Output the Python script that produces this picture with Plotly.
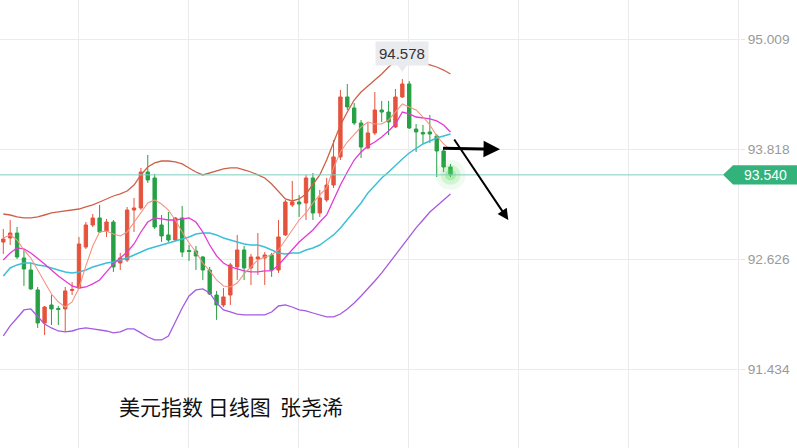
import plotly.graph_objects as go

# ---- candle data (daily USD index) ----
opens = [92.812, 92.856, 92.910, 92.639, 92.509, 92.293, 91.935, 92.130, 92.092, 92.087,
         92.287, 92.314, 92.758, 92.997, 93.073, 92.932, 93.029, 92.585, 92.618, 93.159,
         93.181, 93.571, 93.506, 92.997, 92.889, 92.834, 93.073, 92.721, 92.715, 92.650,
         92.509, 92.238, 92.130, 92.238, 92.542, 92.726, 92.531, 92.629, 92.639, 92.672,
         92.509, 92.889, 93.214, 93.246, 93.235, 93.506, 93.127, 93.268, 93.430, 93.734,
         94.384, 94.265, 94.102, 93.831, 93.994, 94.243, 94.221, 94.059, 94.384, 94.525,
         94.037, 93.999, 94.005, 93.961, 93.799, 93.625]
highs = [92.954, 93.051, 92.975, 92.737, 92.585, 92.325, 92.119, 92.238, 92.119, 92.325,
         92.379, 92.867, 93.029, 93.116, 93.214, 93.062, 93.051, 92.694, 93.192, 93.290,
         93.615, 93.755, 93.550, 93.105, 93.138, 93.084, 93.203, 92.780, 92.769, 92.661,
         92.542, 92.282, 92.314, 92.585, 92.889, 92.769, 92.683, 92.910, 92.704, 92.694,
         93.051, 93.268, 93.474, 93.322, 93.539, 93.560, 93.376, 93.506, 93.918, 94.460,
         94.525, 94.319, 94.135, 94.102, 94.438, 94.341, 94.341, 94.471, 94.578, 94.557,
         94.091, 94.081, 94.189, 93.983, 93.831, 93.658]
lows = [92.683, 92.780, 92.629, 92.336, 92.293, 91.881, 91.805, 91.913, 91.913, 91.838,
        92.238, 92.304, 92.737, 92.975, 92.910, 92.867, 92.488, 92.509, 92.596, 92.921,
        93.159, 93.452, 92.954, 92.813, 92.813, 92.824, 92.650, 92.607, 92.509, 92.401,
        92.238, 91.968, 92.108, 92.130, 92.401, 92.401, 92.347, 92.455, 92.347, 92.434,
        92.477, 92.878, 93.192, 93.084, 93.051, 93.051, 93.084, 93.246, 93.398, 93.701,
        94.243, 94.081, 93.723, 93.820, 93.972, 94.113, 93.972, 94.048, 94.373, 94.037,
        93.788, 93.875, 93.885, 93.517, 93.571, 93.517]
closes = [92.845, 92.910, 92.650, 92.520, 92.304, 91.935, 92.108, 92.087, 92.081, 92.282,
          92.298, 92.791, 92.997, 93.073, 92.921, 93.029, 92.542, 92.639, 93.159, 93.181,
          93.571, 93.485, 92.975, 92.878, 92.834, 93.073, 92.704, 92.710, 92.661, 92.509,
          92.249, 92.130, 92.217, 92.564, 92.726, 92.531, 92.650, 92.650, 92.672, 92.509,
          92.867, 93.246, 93.246, 93.224, 93.506, 93.127, 93.290, 93.430, 93.734, 94.384,
          94.276, 94.102, 93.842, 93.994, 94.243, 94.221, 94.113, 94.384, 94.525, 94.048,
          94.005, 93.983, 93.983, 93.799, 93.625, 93.540]

# ---- indicator lines ----
boll_upper = [93.116, 93.105, 93.084, 93.073, 93.073, 93.084, 93.105, 93.127, 93.138, 93.149,
              93.159, 93.170, 93.192, 93.214, 93.246, 93.279, 93.311, 93.333, 93.365, 93.430,
              93.539, 93.625, 93.669, 93.690, 93.690, 93.680, 93.658, 93.615, 93.571, 93.539,
              93.560, 93.582, 93.604, 93.615, 93.615, 93.593, 93.571, 93.539, 93.506, 93.441,
              93.355, 93.279, 93.257, 93.279, 93.333, 93.430, 93.539, 93.701, 93.896, 94.081,
              94.221, 94.351, 94.438, 94.503, 94.568, 94.633, 94.709, 94.774, 94.817, 94.817,
              94.785, 94.752, 94.731, 94.709, 94.676, 94.633]
boll_lower = [91.794, 91.903, 91.989, 92.076, 92.087, 92.000, 91.924, 91.881, 91.848, 91.838,
              91.848, 91.870, 91.881, 91.870, 91.859, 91.848, 91.827, 91.838, 91.870, 91.870,
              91.827, 91.783, 91.751, 91.751, 91.794, 91.946, 92.097, 92.228, 92.293, 92.304,
              92.260, 92.152, 92.076, 92.054, 92.032, 92.022, 92.022, 92.022, 92.022, 92.054,
              92.119, 92.130, 92.108, 92.076, 92.065, 92.043, 92.022, 92.000, 92.000, 92.032,
              92.087, 92.152, 92.228, 92.304, 92.390, 92.477, 92.574, 92.672, 92.780, 92.878,
              92.965, 93.051, 93.138, 93.203, 93.268, 93.333]
boll_mid = [92.444, 92.531, 92.564, 92.585, 92.585, 92.564, 92.553, 92.531, 92.509, 92.488,
            92.477, 92.488, 92.509, 92.542, 92.564, 92.585, 92.596, 92.618, 92.639, 92.672,
            92.704, 92.737, 92.758, 92.780, 92.802, 92.824, 92.845, 92.867, 92.899, 92.910,
            92.910, 92.889, 92.856, 92.834, 92.813, 92.791, 92.780, 92.780, 92.758, 92.726,
            92.694, 92.683, 92.694, 92.694, 92.726, 92.748, 92.780, 92.834, 92.889, 92.965,
            93.051, 93.138, 93.235, 93.344, 93.430, 93.506, 93.571, 93.647, 93.712, 93.777,
            93.831, 93.875, 93.907, 93.940, 93.961, 93.983]
ma10 = [92.618, 92.694, 92.748, 92.737, 92.694, 92.639, 92.574, 92.509, 92.444, 92.390,
        92.336, 92.314, 92.325, 92.358, 92.401, 92.488, 92.574, 92.639, 92.704, 92.791,
        92.921, 93.029, 93.073, 93.062, 93.051, 93.051, 93.062, 93.073, 93.029, 92.921,
        92.780, 92.661, 92.585, 92.542, 92.520, 92.499, 92.488, 92.488, 92.499, 92.499,
        92.564, 92.650, 92.726, 92.813, 92.878, 92.943, 93.029, 93.105, 93.268, 93.430,
        93.571, 93.701, 93.788, 93.853, 93.896, 93.950, 94.016, 94.091, 94.221, 94.200,
        94.167, 94.156, 94.146, 94.124, 94.081, 94.005]
ma5 = [92.856, 92.889, 92.834, 92.726, 92.639, 92.509, 92.368, 92.249, 92.163, 92.108,
       92.163, 92.314, 92.553, 92.769, 92.921, 92.932, 92.899, 92.878, 92.921, 93.029,
       93.138, 93.235, 93.268, 93.224, 93.159, 93.051, 92.921, 92.802, 92.704, 92.585,
       92.499, 92.401, 92.336, 92.325, 92.368, 92.466, 92.542, 92.618, 92.650, 92.672,
       92.726, 92.834, 92.943, 93.051, 93.127, 93.235, 93.322, 93.398, 93.615, 93.788,
       93.896, 93.972, 94.059, 94.113, 94.091, 94.091, 94.135, 94.221, 94.308, 94.276,
       94.243, 94.167, 94.081, 93.961, 93.875, 93.810]

y_tick_vals = [95.009, 93.818, 92.626, 91.434]
y_tick_text = ["95.009", "93.818", "92.626", "91.434"]
last_price = 93.540
last_price_text = "93.540"
peak_text = "94.578"
caption = "美元指数 日线图  张尧浠"

# arrow (tail, head) in (bar index, price)
arrow_flat = ((63.7, 93.828), (72.2, 93.817))
arrow_down = ((65.4, 93.940), (73.4, 93.051))

Y_MIN, Y_MAX = 90.580, 95.435
X_MIN, X_MAX = -0.48, 107.08

idx = list(range(len(opens)))
RED = "#e5533d"
GREEN = "#27a044"

fig = go.Figure()

line_specs = [
    (boll_upper, "#cf6048", 1.3),
    (boll_lower, "#a55ae2", 1.3),
    (boll_mid, "#3cbfda", 1.5),
    (ma10, "#e33ad6", 1.3),
    (ma5, "#f29483", 1.1),
]
for vals, col, w in line_specs:
    fig.add_trace(go.Scatter(x=idx, y=vals, mode="lines",
                             line=dict(color=col, width=w), hoverinfo="skip"))

fig.add_trace(go.Candlestick(
    x=idx, open=opens, high=highs, low=lows, close=closes,
    increasing=dict(line=dict(color=RED, width=1), fillcolor=RED),
    decreasing=dict(line=dict(color=GREEN, width=1), fillcolor=GREEN),
    whiskerwidth=0,
))

# glow on the last candle
for size, alpha in [(30, 0.10), (20, 0.18), (11, 0.30)]:
    fig.add_trace(go.Scatter(x=[idx[-1]], y=[closes[-1]], mode="markers",
                             marker=dict(size=size, color=f"rgba(90,215,90,{alpha})",
                                         line=dict(width=0)),
                             hoverinfo="skip"))

# geometry helpers for the price tag (paper coords)
PLOT_W, FIG_H = 740, 448
PX = (Y_MAX - Y_MIN) / FIG_H   # price per pixel
yp = (last_price - Y_MIN) / (Y_MAX - Y_MIN)
hh = 9.7 / FIG_H
tip_x, box_l, box_r = 723 / PLOT_W, 733 / PLOT_W, 797 / PLOT_W

peak_i = max(idx, key=lambda i: highs[i])
peak_hi = highs[peak_i]
bw = 0.95  # half width of the callout pointer, in bars

shapes = [
    dict(type="line", xref="paper", yref="y", x0=0, x1=tip_x, y0=last_price, y1=last_price,
         line=dict(color="#7dcfbf", width=1)),
    dict(type="path", xref="paper", yref="paper",
         path=f"M {tip_x},{yp} L {box_l},{yp + hh} L {box_r},{yp + hh} L {box_r},{yp - hh} L {box_l},{yp - hh} Z",
         fillcolor="#33b27b", line=dict(width=0)),
    dict(type="path", xref="x", yref="y",
         path=(f"M {peak_i - bw},{peak_hi + 16 * PX} L {peak_i + bw},{peak_hi + 16 * PX} "
               f"L {peak_i},{peak_hi + 7 * PX} Z"),
         fillcolor="#e9ebee", line=dict(width=0)),
]

annotations = [
    dict(xref="paper", yref="paper", x=(box_l + box_r) / 2, y=yp, text=last_price_text,
         showarrow=False, font=dict(color="white", size=14, family="Liberation Sans"),
         xanchor="center", yanchor="middle"),
    dict(x=idx[peak_i], y=peak_hi, text=peak_text, showarrow=False, yshift=26,
         bgcolor="#e9ebee", borderpad=3,
         font=dict(color="#333333", size=15, family="Liberation Sans")),
    dict(xref="paper", yref="paper", x=117 / PLOT_W, y=1 - 406 / FIG_H, text=caption,
         showarrow=False, xanchor="left", yanchor="middle",
         font=dict(color="#111111", size=21, family="Noto Sans CJK SC")),
]
for (tx, ty), (hx, hy), w in [(arrow_flat[0], arrow_flat[1], 3), (arrow_down[0], arrow_down[1], 2)]:
    annotations.append(dict(x=hx, y=hy, ax=tx, ay=ty, xref="x", yref="y", axref="x", ayref="y",
                            text="", showarrow=True, arrowhead=2, arrowsize=1.1,
                            arrowwidth=w, arrowcolor="#000000", standoff=0))

fig.update_layout(
    width=797, height=448,
    margin=dict(l=0, r=57, t=0, b=0, autoexpand=False),
    paper_bgcolor="white", plot_bgcolor="white",
    showlegend=False,
    shapes=shapes, annotations=annotations,
    xaxis=dict(range=[X_MIN, X_MAX], type="linear", showticklabels=False,
               showgrid=True, gridcolor="#ebebeb", gridwidth=1,
               tick0=10.86, dtick=16, zeroline=False, showline=False,
               rangeslider=dict(visible=False), fixedrange=True),
    yaxis=dict(range=[Y_MIN, Y_MAX], side="right", tickvals=y_tick_vals, ticktext=y_tick_text,
               showgrid=True, gridcolor="#ebebeb", ticks="outside", ticklen=4,
               tickcolor="#e3e3e3", zeroline=False, showline=False, fixedrange=True,
               tickfont=dict(color="#9a9a9a", size=13.7, family="Liberation Sans")),
)

fig.write_html("out.html",
               config={"displayModeBar": False, "staticPlot": True},
               post_script="document.body.style.margin='0';document.body.style.overflow='hidden';")
